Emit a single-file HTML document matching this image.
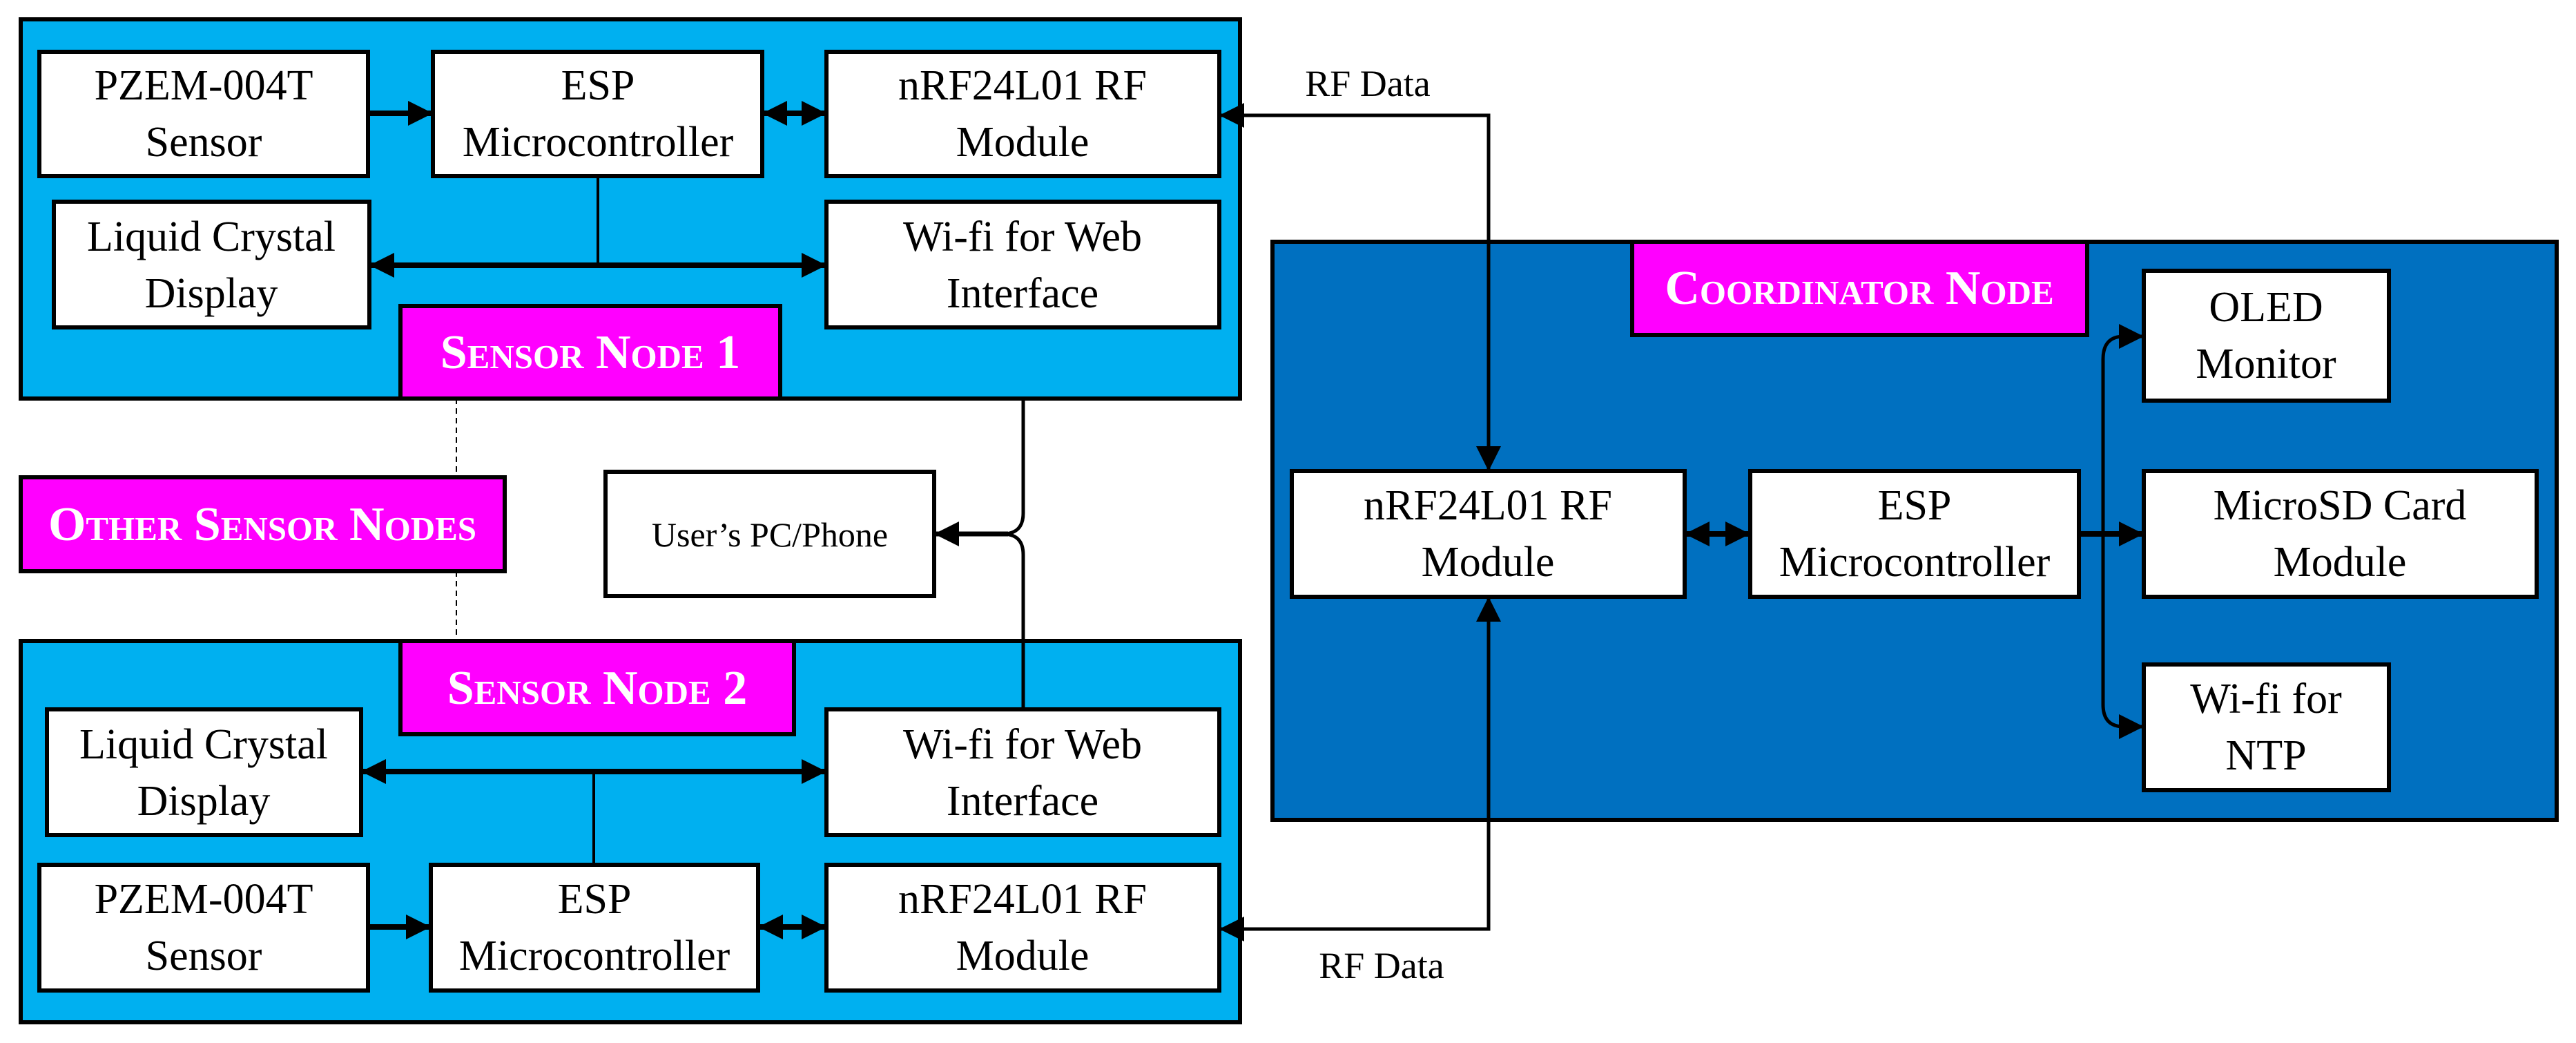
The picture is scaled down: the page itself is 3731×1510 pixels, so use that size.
<!DOCTYPE html>
<html><head><meta charset="utf-8"><style>
html,body{margin:0;padding:0;background:#fff;}
svg{display:block;}
</style></head><body>
<svg width="3731" height="1510" viewBox="0 0 3731 1510" xmlns="http://www.w3.org/2000/svg">
<defs>
<marker id="a" viewBox="0 0 10 10" refX="10" refY="5" markerWidth="36" markerHeight="36" markerUnits="userSpaceOnUse" orient="auto"><path d="M0,0 L10,5 L0,10 Z" fill="#000"/></marker>
<marker id="b" viewBox="0 0 10 10" refX="10" refY="5" markerWidth="36" markerHeight="36" markerUnits="userSpaceOnUse" orient="auto-start-reverse"><path d="M0,0 L10,5 L0,10 Z" fill="#000"/></marker>
</defs>
<g stroke="#000" stroke-width="6">
<rect x="30" y="28" width="1766" height="549" fill="#00B0F0"/>
<rect x="57" y="75" width="476" height="180" fill="#fff"/>
<rect x="627" y="75" width="477" height="180" fill="#fff"/>
<rect x="1197" y="75" width="569" height="180" fill="#fff"/>
<rect x="78" y="292" width="457" height="182" fill="#fff"/>
<rect x="1197" y="292" width="569" height="182" fill="#fff"/>
<rect x="580" y="443" width="550" height="134" fill="#FF00FF"/>
<rect x="30" y="928" width="1766" height="552" fill="#00B0F0"/>
<rect x="580" y="928" width="570" height="135" fill="#FF00FF"/>
<rect x="68" y="1027" width="455" height="182" fill="#fff"/>
<rect x="1197" y="1027" width="569" height="182" fill="#fff"/>
<rect x="57" y="1252" width="476" height="182" fill="#fff"/>
<rect x="624" y="1252" width="474" height="182" fill="#fff"/>
<rect x="1197" y="1252" width="569" height="182" fill="#fff"/>
<rect x="30" y="691" width="701" height="136" fill="#FF00FF"/>
<rect x="877" y="683" width="476" height="180" fill="#fff"/>
<rect x="1843" y="350" width="1860" height="837" fill="#0070C0"/>
<rect x="2364" y="350" width="659" height="135" fill="#FF00FF"/>
<rect x="3105" y="392" width="355" height="188" fill="#fff"/>
<rect x="3105" y="682" width="569" height="182" fill="#fff"/>
<rect x="3105" y="962" width="355" height="182" fill="#fff"/>
<rect x="1871" y="682" width="569" height="182" fill="#fff"/>
<rect x="2535" y="682" width="476" height="182" fill="#fff"/>
</g>
<g stroke="#000" fill="none">
<line x1="533" y1="164" x2="627" y2="164" stroke-width="8" marker-end="url(#a)"/>
<line x1="1104" y1="164" x2="1197" y2="164" stroke-width="8" marker-end="url(#a)" marker-start="url(#b)"/>
<line x1="866" y1="255" x2="866" y2="384" stroke-width="4"/>
<line x1="535" y1="384" x2="1197" y2="384" stroke-width="8" marker-end="url(#a)" marker-start="url(#b)"/>
<line x1="533" y1="1342" x2="624" y2="1342" stroke-width="8" marker-end="url(#a)"/>
<line x1="1098" y1="1342" x2="1197" y2="1342" stroke-width="8" marker-end="url(#a)" marker-start="url(#b)"/>
<line x1="860" y1="1117" x2="860" y2="1252" stroke-width="4"/>
<line x1="523" y1="1117" x2="1197" y2="1117" stroke-width="8" marker-end="url(#a)" marker-start="url(#b)"/>
<line x1="661" y1="577" x2="661" y2="691" stroke-width="2" stroke-dasharray="8,6"/>
<line x1="661" y1="827" x2="661" y2="928" stroke-width="2" stroke-dasharray="8,6"/>
<path d="M1482,577 V743 Q1482,773 1452,773" stroke-width="5"/>
<path d="M1482,1027 V803 Q1482,773 1452,773" stroke-width="5"/>
<line x1="1460" y1="773" x2="1353" y2="773" stroke-width="7" marker-end="url(#a)"/>
<path d="M2156,682 V167 H1766" stroke-width="5" marker-end="url(#a)" marker-start="url(#b)"/>
<path d="M2156,864 V1345 H1766" stroke-width="5" marker-end="url(#a)" marker-start="url(#b)"/>
<line x1="2440" y1="773" x2="2535" y2="773" stroke-width="8" marker-end="url(#a)" marker-start="url(#b)"/>
<line x1="3011" y1="773" x2="3105" y2="773" stroke-width="8" marker-end="url(#a)"/>
<path d="M3046,773 V520 Q3046,487 3076,487 H3105" stroke-width="5" marker-end="url(#a)"/>
<path d="M3046,773 V1020 Q3046,1052 3076,1052 H3105" stroke-width="5" marker-end="url(#a)"/>
</g>
<g font-family="Liberation Serif, serif" font-size="62" text-anchor="middle" fill="#000" style="font-family:'Liberation Serif',serif">
<text x="295" y="144">PZEM-004T</text><text x="295" y="226">Sensor</text>
<text x="866" y="144">ESP</text><text x="866" y="226">Microcontroller</text>
<text x="1481" y="144">nRF24L01 RF</text><text x="1481" y="226">Module</text>
<text x="306" y="363">Liquid Crystal</text><text x="306" y="445">Display</text>
<text x="1481" y="363">Wi-fi for Web</text><text x="1481" y="445">Interface</text>
<text x="295" y="1098">Liquid Crystal</text><text x="295" y="1180">Display</text>
<text x="1481" y="1098">Wi-fi for Web</text><text x="1481" y="1180">Interface</text>
<text x="295" y="1322">PZEM-004T</text><text x="295" y="1404">Sensor</text>
<text x="861" y="1322">ESP</text><text x="861" y="1404">Microcontroller</text>
<text x="1481" y="1322">nRF24L01 RF</text><text x="1481" y="1404">Module</text>
<text x="3282" y="465">OLED</text><text x="3282" y="547">Monitor</text>
<text x="3389" y="752">MicroSD Card</text><text x="3389" y="834">Module</text>
<text x="3282" y="1032">Wi-fi for</text><text x="3282" y="1114">NTP</text>
<text x="2155" y="752">nRF24L01 RF</text><text x="2155" y="834">Module</text>
<text x="2773" y="752">ESP</text><text x="2773" y="834">Microcontroller</text>
<text x="1115" y="791" font-size="50" style="font-size:50px">User’s PC/Phone</text>
<text x="1981" y="139" font-size="54" style="font-size:54px">RF Data</text>
<text x="2001" y="1416" font-size="54" style="font-size:54px">RF Data</text>
</g>
<g font-family="Liberation Serif, serif" font-size="70" font-weight="bold" text-anchor="middle" fill="#fff" style="font-family:'Liberation Serif',serif;font-variant:small-caps">
<text x="855" y="533">Sensor Node 1</text>
<text x="380" y="782">Other Sensor Nodes</text>
<text x="865" y="1019">Sensor Node 2</text>
<text x="2693" y="440">Coordinator Node</text>
</g>
</svg>
</body></html>
